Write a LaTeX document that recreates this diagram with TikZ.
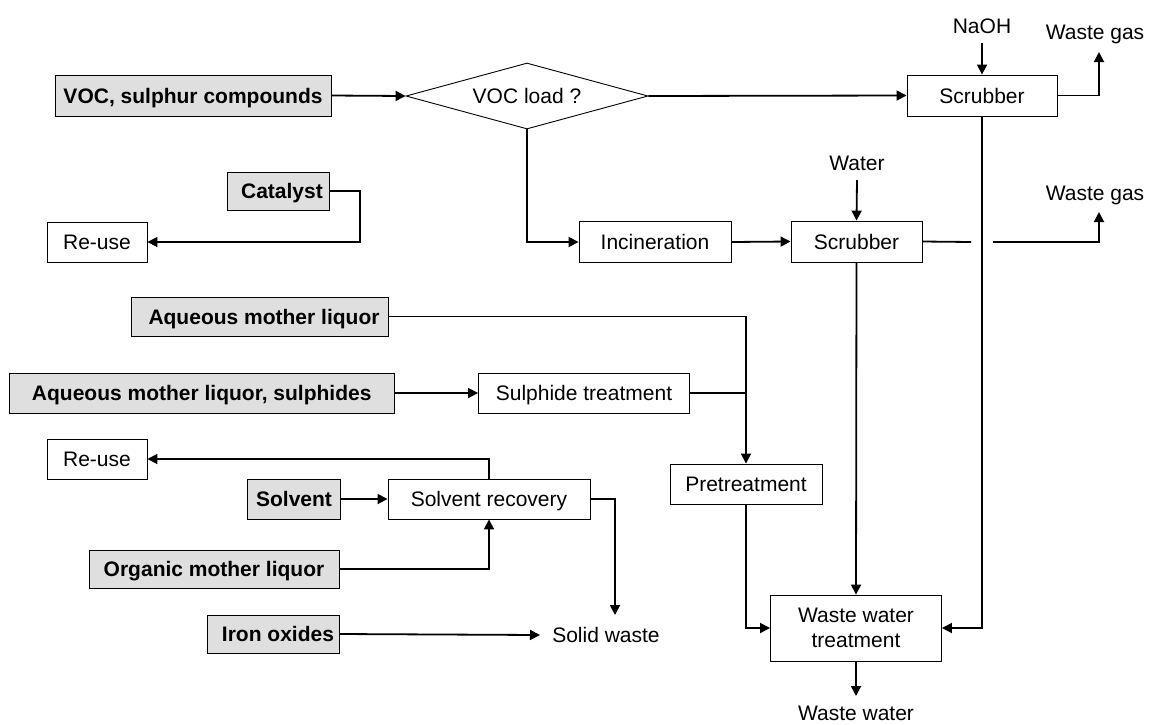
\documentclass[tikz,border=0pt]{standalone}
\usepackage{fontspec}
\setmainfont{Liberation Sans}
\usetikzlibrary{shapes.geometric,arrows.meta}
\begin{document}
\begin{tikzpicture}[x=1pt,y=-1pt,
  every node/.style={font=\fontsize{21}{25}\selectfont, inner sep=0pt},
  one/.style={text height=17pt, text depth=2pt},
  box/.style={draw, line width=0.9pt, fill=white},
  src/.style={draw, line width=0.9pt, fill=gray!25, one, font=\fontsize{21}{25}\selectfont\bfseries},
  lbl/.style={one},
  arr/.style={line width=1.8pt, -{Triangle[length=10pt,width=10pt]}},
  ln/.style={line width=1.8pt}]
\useasboundingbox (0,0) rectangle (1149,724);

% sources (grey)
\node[src, minimum width=276pt, minimum height=41pt] (voc) at (193,95.5) {VOC, sulphur compounds};
\node[src, minimum width=102pt, minimum height=38pt] (cat) at (278,191) {\hspace{8pt}Catalyst};
\node[src, minimum width=257pt, minimum height=39pt] (aml) at (260,316.5) {\hspace{8pt}Aqueous mother liquor};
\node[src, minimum width=385pt, minimum height=40pt] (amls) at (201.7,393) {Aqueous mother liquor, sulphides};
\node[src, minimum width=93pt, minimum height=40pt] (solv) at (294,499) {Solvent};
\node[src, minimum width=250pt, minimum height=38pt] (oml) at (214,569) {Organic mother liquor};
\node[src, minimum width=132pt, minimum height=38pt] (iron) at (273,634) {\hspace{10pt}Iron oxides};

% process boxes
\node[draw, line width=0.9pt, shape=diamond, aspect=3.67, minimum width=242pt, minimum height=66pt, one] (load) at (527,96) {VOC load ?};
\node[box, one, minimum width=150pt, minimum height=41pt] (scr1) at (982,95.5) {Scrubber};
\node[box, one, minimum width=131pt, minimum height=41pt] (scr2) at (856.5,241.5) {Scrubber};
\node[box, one, minimum width=152pt, minimum height=41pt] (inc) at (655,242) {Incineration};
\node[box, one, minimum width=100pt, minimum height=40pt] (reuse1) at (97,242) {Re-use};
\node[box, one, minimum width=211pt, minimum height=40pt] (sulph) at (584,393) {Sulphide treatment};
\node[box, one, minimum width=100pt, minimum height=40pt] (reuse2) at (97,459) {Re-use};
\node[box, one, minimum width=202pt, minimum height=40pt] (srec) at (489,499) {Solvent recovery};
\node[box, one, minimum width=152pt, minimum height=40pt] (pre) at (746,484) {Pretreatment};
\node[box, minimum width=171pt, minimum height=66pt, align=center] (wwt) at (856,628) {Waste water\\treatment};

% plain labels
\node[lbl] (naoh) at (982,26) {NaOH};
\node[lbl] (wg1) at (1095,32) {Waste gas};
\node[lbl] (water) at (857,163) {Water};
\node[lbl] (wg2) at (1095,193) {Waste gas};
\node[lbl] (solid) at (606,635) {Solid waste};
\node[lbl] (ww) at (856,713) {Waste water};

% helper coordinates
\coordinate (naohs) at (982,43);
\coordinate (waters) at (857,180);
\coordinate (wg1tip) at (1099,52);
\coordinate (wg2tip) at (1099,212);
\coordinate (hopA) at (971,242);
\coordinate (hopB) at (993,242);
\coordinate (catc) at (360,191);
\coordinate (solidtip) at (615,615);
\coordinate (irontip) at (540,635);
\coordinate (wwtip) at (856,696);
\coordinate (j1) at (746,393);

% connectors
\draw[arr] (voc.east) -- (load.west);
\draw[arr] (load.east) -- (scr1.west);
\draw[arr] (load.south) |- (inc.west);
\draw[arr] (inc.east) -- (scr2.west);
\draw[arr] (naohs) -- (scr1.north);
\draw[arr] (waters) -- (scr2.north);
\draw[arr] (scr1.east) -| (wg1tip);
\draw[ln] (scr2.east) -- (hopA);
\draw[arr] (hopB) -| (wg2tip);
\draw[arr] (scr1.south) |- (wwt.east);
\draw[arr] (scr2.south) -- (wwt.north);
\draw[arr] (cat.east) -- (catc) |- (reuse1.east);
\draw[arr] (aml.east) -| (pre.north);
\draw[arr] (amls.east) -- (sulph.west);
\draw[ln] (sulph.east) -- (j1);
\draw[arr] (solv.east) -- (srec.west);
\draw[arr] (srec.north) |- (reuse2.east);
\draw[arr] (oml.east) -| (srec.south);
\draw[arr] (srec.east) -| (solidtip);
\draw[arr] (iron.east) -- (irontip);
\draw[arr] (pre.south) |- (wwt.west);
\draw[arr] (wwt.south) -- (wwtip);
\end{tikzpicture}
\end{document}
